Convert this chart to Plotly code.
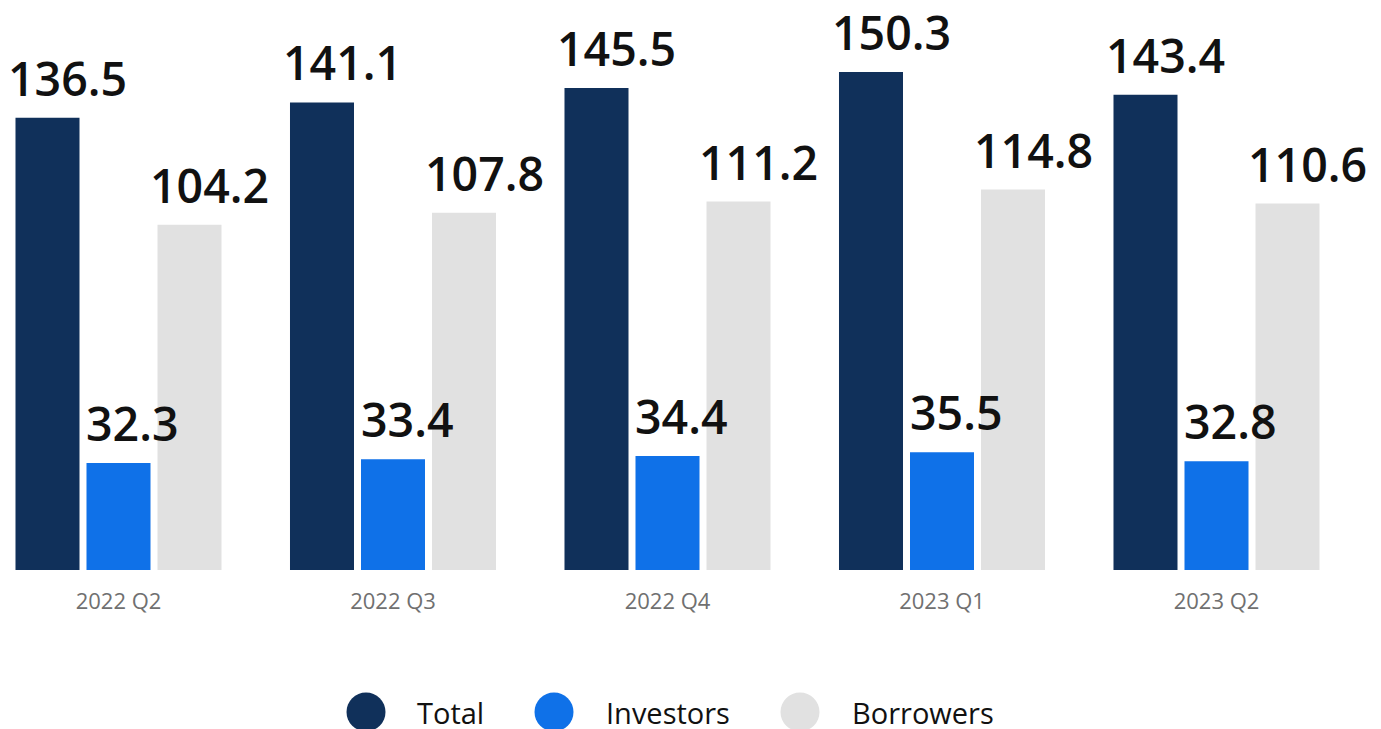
import plotly.graph_objects as go

categories = ["2022 Q2", "2022 Q3", "2022 Q4", "2023 Q1", "2023 Q2"]
series_names = ["Total", "Investors", "Borrowers"]
total = [136.5, 141.1, 145.5, 150.3, 143.4]
investors = [32.3, 33.4, 34.4, 35.5, 32.8]
borrowers = [104.2, 107.8, 111.2, 114.8, 110.6]
series_values = [total, investors, borrowers]
colors = ["#10305a", "#0f71e8", "#e1e1e1"]

W, H = 1381, 729
OFF = 8  # page body offset compensation
M_L, M_R = 0, 0
M_T = 40 - OFF
M_B = H - (570 - OFF)
BARGAP = 0.224
BARGROUPGAP = 0.0986

fig = go.Figure()
for name, vals, col in zip(series_names, series_values, colors):
    fig.add_trace(go.Bar(
        x=categories, y=vals, name=name,
        marker=dict(color=col, line=dict(width=0)),
        showlegend=False, hoverinfo="x+y+name",
    ))

# value labels
slot = (1 - BARGAP) / len(series_names)
annotations = []
for i, vals in enumerate(series_values):
    for c, v in enumerate(vals):
        label = f"{v:.1f}"
        annotations.append(dict(
            x=c + (i - (len(series_names) - 1) / 2) * slot, y=v,
            xref="x", yref="y", text=label, showarrow=False,
            xanchor="center", yanchor="bottom",
            xshift=6 * len(label) - 10, yshift=6,
            font=dict(family="Open Sans", size=46.5, color="#111111", weight=600),
        ))

# custom legend (circles + labels) below the chart
plot_h = H - M_T - M_B
def py_to_paper(py):
    return (H - M_B - (py - OFF)) / plot_h

legend_circle_x = [366, 554, 800]
legend_text_x = [415, 604, 850]
legend_y_px = 712
shapes = []
for name, col, cx, tx in zip(series_names, colors, legend_circle_x, legend_text_x):
    shapes.append(dict(
        type="circle", xref="paper", yref="paper",
        xsizemode="pixel", ysizemode="pixel",
        xanchor=(cx - OFF) / W, yanchor=py_to_paper(legend_y_px),
        x0=-19.5, x1=19.5, y0=-19.5, y1=19.5,
        fillcolor=col, line=dict(width=0),
    ))
    annotations.append(dict(
        x=(tx - OFF) / W, y=py_to_paper(legend_y_px), xref="paper", yref="paper",
        text=name, showarrow=False, xanchor="left", yanchor="middle",
        font=dict(family="Open Sans", size=29, color="#111111"),
    ))

fig.update_layout(
    width=W, height=H,
    margin=dict(l=M_L, r=M_R, t=M_T, b=M_B, pad=0),
    barmode="group", bargap=BARGAP, bargroupgap=BARGROUPGAP,
    plot_bgcolor="white", paper_bgcolor="white",
    font=dict(family="Open Sans"),
    annotations=annotations, shapes=shapes,
    showlegend=False,
)
x_px_per_cat = 274.5
first_center = 118.5 - OFF
fig.update_xaxes(
    range=[-first_center / x_px_per_cat, (W - first_center) / x_px_per_cat],
    showgrid=False, zeroline=False, showline=False, ticks="",
    ticklabelstandoff=16,
    tickfont=dict(family="Open Sans", size=22, color="#707070"),
)
fig.update_yaxes(range=[0, plot_h / 3.3134], visible=False, showgrid=False)

fig.write_html("out.html")
